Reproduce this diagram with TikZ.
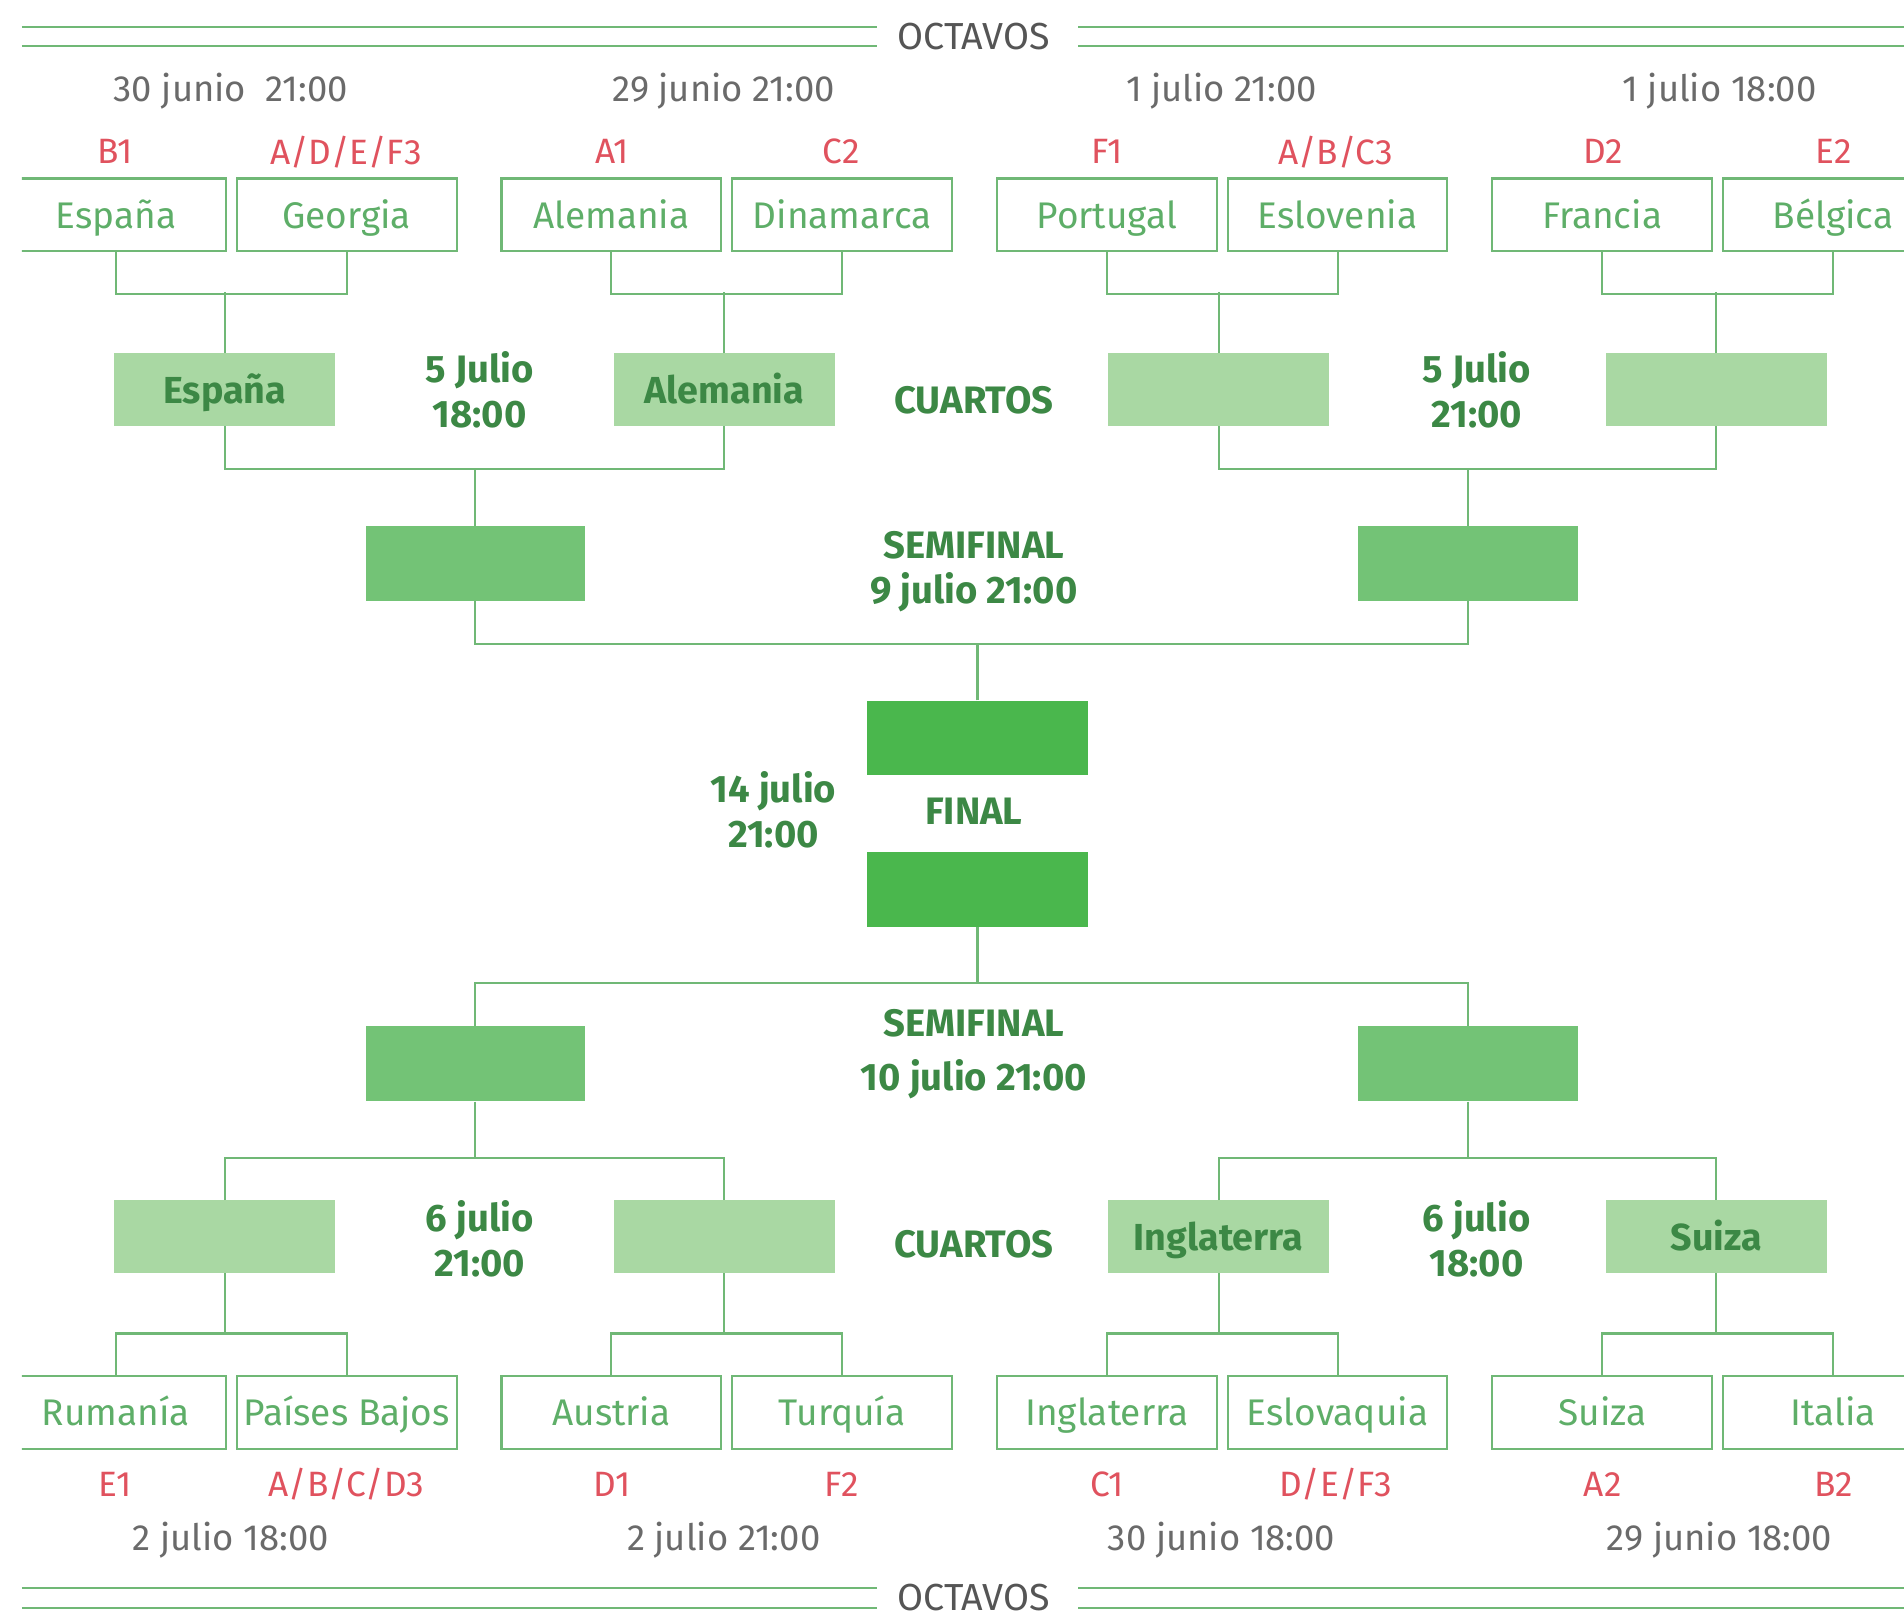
\documentclass[tikz,border=0pt]{standalone}
\usepackage{fontspec}
\setmainfont{Fira Sans}
\usetikzlibrary{calc}
\definecolor{linegreen}{HTML}{70B876}
\definecolor{teamgreen}{HTML}{5EAE68}
\definecolor{redlab}{HTML}{E0525E}
\definecolor{dategrey}{HTML}{6A6A6A}
\definecolor{darkgreen}{HTML}{3C8845}
\definecolor{qgreen}{HTML}{A9D8A3}
\definecolor{sgreen}{HTML}{73C376}
\definecolor{fgreen}{HTML}{4AB74D}
\tikzset{
  team/.style={draw=linegreen, line width=1.7pt, minimum width=181pt, minimum height=60pt, inner sep=0pt, text height=24pt, text depth=2pt, text=teamgreen, font=\fontsize{30.5}{34}\selectfont},
  qbox/.style={fill=qgreen, minimum width=182pt, minimum height=60pt, inner sep=0pt, text height=25pt, text depth=3pt, text=darkgreen, font=\fontsize{31}{34}\selectfont\bfseries},
  sbox/.style={fill=sgreen, minimum width=181pt, minimum height=62pt, inner sep=0pt},
  fbox/.style={fill=fgreen, minimum width=182pt, minimum height=61pt, inner sep=0pt},
  conn/.style={draw=linegreen, line width=1.7pt},
  dbl/.style={draw=linegreen, line width=1.5pt},
  redl/.style={text=redlab, font=\fontsize{29}{32}\selectfont, inner sep=0pt},
  datel/.style={text=dategrey, font=\fontsize{30}{33}\selectfont, inner sep=0pt},
  octl/.style={text=dategrey!80!black, font=\fontsize{31}{34}\selectfont, inner sep=0pt},
  boldl/.style={text=darkgreen, font=\fontsize{31.5}{37}\selectfont\bfseries, align=center, inner sep=0pt},
}
\begin{document}
\begin{tikzpicture}[x=1pt,y=-1pt]
\useasboundingbox (0,0) rectangle (1568,1332);
\fill[white] (0,0) rectangle (1568,1332);
\begin{scope}
\clip (18,0) rectangle (1568,1332);
% OCTAVOS headers
\node[octl] (o1) at (802,30) {OCTAVOS};
\draw[dbl] (18,22) -- (722,22) (18,38) -- (722,38) (888,22) -- (1568,22) (888,38) -- (1568,38);
\node[octl] (o2) at (802,1316) {OCTAVOS};
\draw[dbl] (18,1308) -- (722,1308) (18,1324) -- (722,1324) (888,1308) -- (1568,1308) (888,1324) -- (1568,1324);
% dates top
\node[datel] (d1) at (190,75) {30 junio\ \ 21:00};
\node[datel] (d2) at (596,75) {29 junio 21:00};
\node[datel] (d3) at (1006,75) {1 julio 21:00};
\node[datel] (d4) at (1416,75) {1 julio 18:00};
% red labels top
\node[redl] (r1) at (95,125) {B1};
\node[redl] (r2) at (285,125) {A/D/E/F3};
\node[redl] (r3) at (504,125) {A1};
\node[redl] (r4) at (693,125) {C2};
\node[redl] (r5) at (912,125) {F1};
\node[redl] (r6) at (1100,125) {A/B/C3};
\node[redl] (r7) at (1320,125) {D2};
\node[redl] (r8) at (1510,125) {E2};
% teams top
\node[team] (t1) at (95.5,177) {España};
\node[team] (t2) at (285.5,177) {Georgia};
\node[team] (t3) at (503.5,177) {Alemania};
\node[team] (t4) at (693.5,177) {Dinamarca};
\node[team] (t5) at (911.5,177) {Portugal};
\node[team] (t6) at (1101.5,177) {Eslovenia};
\node[team] (t7) at (1319.5,177) {Francia};
\node[team] (t8) at (1509.5,177) {Bélgica};
% cuartos top
\node[qbox] (q1) at (185,321) {España};
\node[qbox] (q2) at (596.5,321) {Alemania};
\node[qbox] (q3) at (1003.5,321) {};
\node[qbox] (q4) at (1413.5,321) {};
\node[boldl] (l1) at (395,321) {5 Julio\\18:00};
\node[boldl] (l2) at (802,330) {CUARTOS};
\node[boldl] (l3) at (1216,321) {5 Julio\\21:00};
% semifinal top
\node[sbox] (s1) at (391.5,464) {};
\node[sbox] (s2) at (1209,464) {};
\node[boldl] (l4) at (802,471) {SEMIFINAL\\9 julio 21:00};
% final
\node[fbox] (f1) at (805,607.5) {};
\node[fbox] (f2) at (805,732.5) {};
\node[boldl] (l5) at (637,667) {14 julio\\21:00};
\node[boldl] (l6) at (802,668) {FINAL};
% semifinal bottom
\node[sbox] (s3) at (391.5,876) {};
\node[sbox] (s4) at (1209,876) {};
\node[boldl, font=\fontsize{31.5}{44}\selectfont\bfseries] (l7) at (802,868) {SEMIFINAL\\10 julio 21:00};
% cuartos bottom
\node[qbox] (q5) at (185,1018.5) {};
\node[qbox] (q6) at (596.5,1018.5) {};
\node[qbox] (q7) at (1003.5,1018.5) {Inglaterra};
\node[qbox] (q8) at (1413.5,1018.5) {Suiza};
\node[boldl] (l8) at (395,1020) {6 julio\\21:00};
\node[boldl] (l9) at (802,1025) {CUARTOS};
\node[boldl] (l10) at (1216,1020) {6 julio\\18:00};
% teams bottom
\node[team] (t9) at (95.5,1163) {Rumanía};
\node[team] (t10) at (285.5,1163) {Países Bajos};
\node[team] (t11) at (503.5,1163) {Austria};
\node[team] (t12) at (693.5,1163) {Turquía};
\node[team] (t13) at (911.5,1163) {Inglaterra};
\node[team] (t14) at (1101.5,1163) {Eslovaquia};
\node[team] (t15) at (1319.5,1163) {Suiza};
\node[team] (t16) at (1509.5,1163) {Italia};
% red labels bottom
\node[redl] (r9) at (95,1222) {E1};
\node[redl] (r10) at (285,1222) {A/B/C/D3};
\node[redl] (r11) at (504,1222) {D1};
\node[redl] (r12) at (693,1222) {F2};
\node[redl] (r13) at (912,1222) {C1};
\node[redl] (r14) at (1100,1222) {D/E/F3};
\node[redl] (r15) at (1320,1222) {A2};
\node[redl] (r16) at (1510,1222) {B2};
% dates bottom
\node[datel] (d5) at (190,1268) {2 julio 18:00};
\node[datel] (d6) at (596,1268) {2 julio 21:00};
\node[datel] (d7) at (1006,1268) {30 junio 18:00};
\node[datel] (d8) at (1416,1268) {29 junio 18:00};
% connectors top half
\draw[conn] (t1.south) -- ++(0,34) -| (t2.south);
\draw[conn] (t3.south) -- ++(0,34) -| (t4.south);
\draw[conn] (t5.south) -- ++(0,34) -| (t6.south);
\draw[conn] (t7.south) -- ++(0,34) -| (t8.south);
\draw[conn] (q1.north) -- ++(0,-50);
\draw[conn] (q2.north) -- ++(0,-50);
\draw[conn] (q3.north) -- ++(0,-50);
\draw[conn] (q4.north) -- ++(0,-50);
\draw[conn] (q1.south) -- ++(0,35) -| (q2.south);
\draw[conn] (q3.south) -- ++(0,35) -| (q4.south);
\draw[conn] (s1.north) -- ++(0,-47);
\draw[conn] (s2.north) -- ++(0,-47);
\draw[conn] (s1.south) -- ++(0,35) -| (s2.south);
\draw[conn] (f1.north) -- ++(0,-47);
% connectors bottom half
\draw[conn] (f2.south) -- ++(0,47);
\draw[conn] (s3.north) -- ++(0,-35) -| (s4.north);
\draw[conn] (s3.south) -- ++(0,46);
\draw[conn] (s4.south) -- ++(0,46);
\draw[conn] (q5.north) -- ++(0,-35) -| (q6.north);
\draw[conn] (q7.north) -- ++(0,-35) -| (q8.north);
\draw[conn] (q5.south) -- ++(0,50);
\draw[conn] (q6.south) -- ++(0,50);
\draw[conn] (q7.south) -- ++(0,50);
\draw[conn] (q8.south) -- ++(0,50);
\draw[conn] (t9.north) -- ++(0,-34) -| (t10.north);
\draw[conn] (t11.north) -- ++(0,-34) -| (t12.north);
\draw[conn] (t13.north) -- ++(0,-34) -| (t14.north);
\draw[conn] (t15.north) -- ++(0,-34) -| (t16.north);
\end{scope}
\end{tikzpicture}
\end{document}
